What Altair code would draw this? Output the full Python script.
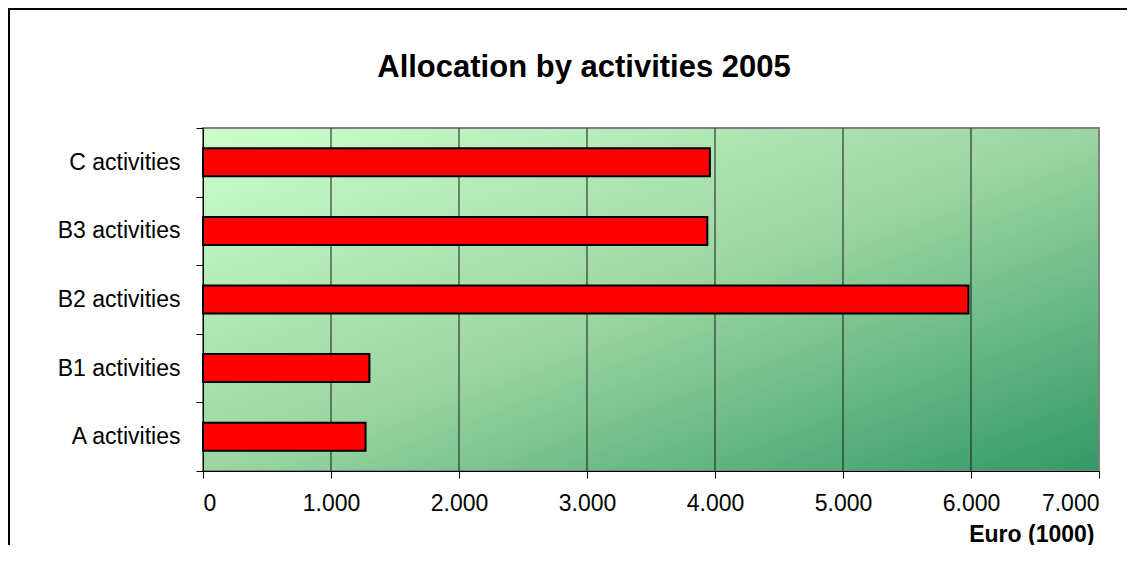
import altair as alt
import pandas as pd

# ---- data ----
categories = ["A activities", "B1 activities", "B2 activities", "B3 activities", "C activities"]
values = [1270, 1300, 5980, 3940, 3960]
x_ticks = [0, 1000, 2000, 3000, 4000, 5000, 6000, 7000]
grid_values = [1000, 2000, 3000, 4000, 5000, 6000]
title_text = "Allocation by activities 2005"
x_title = "Euro (1000)"

df = pd.DataFrame({"activity": categories, "euro": values})
grid_df = pd.DataFrame({"euro": grid_values})
order = categories[::-1]

W, H = 896, 343
FONT = "Liberation Sans"
one = alt.Data(values=[{"k": 1}])

x_scale = alt.Scale(domain=[0, 7000], nice=False, zero=True)

bg = alt.Chart(one).mark_rect(
    color=alt.Gradient(
        gradient="linear", x1=0, y1=0, x2=1, y2=1,
        stops=[
            alt.GradientStop(color="#CCFFCC", offset=0),
            alt.GradientStop(color="#9BD6A2", offset=0.5),
            alt.GradientStop(color="#339966", offset=1),
        ],
    )
).encode(x=alt.value(0), x2=alt.value(W), y=alt.value(0), y2=alt.value(H))

border = alt.Chart(one).mark_rect(
    fillOpacity=0, stroke="#808080", strokeWidth=2
).encode(x=alt.value(0), x2=alt.value(W), y=alt.value(0), y2=alt.value(H))

grid = alt.Chart(grid_df).mark_rule(color="#1a1a1a", strokeWidth=1).encode(
    x=alt.X("euro:Q", scale=x_scale)
)

bars = alt.Chart(df).mark_bar(
    color="#FF0000", stroke="black", strokeWidth=2, size=28
).encode(
    x=alt.X(
        "euro:Q",
        scale=x_scale,
        axis=alt.Axis(
            values=x_ticks,
            labelExpr="replace(format(datum.value, ','), ',', '.')",
            grid=False,
            tickSize=7,
            tickColor="black",
            domainColor="black",
            labelFont=FONT,
            labelFontSize=23,
            labelColor="black",
            labelBaseline="alphabetic",
            labelPadding=32,
            title=x_title,
            titleFont=FONT,
            titleFontSize=23,
            titleFontWeight="bold",
            titleColor="black",
            titleX=891,
            titleY=70,
            titleAlign="right",
            titleBaseline="alphabetic",
            zindex=1,
        ),
    ),
    y=alt.Y(
        "activity:N",
        sort=order,
        scale=alt.Scale(paddingInner=0, paddingOuter=0),
        axis=alt.Axis(
            title=None,
            tickBand="extent",
            tickSize=7,
            tickColor="black",
            domainColor="black",
            labelFont=FONT,
            labelFontSize=23,
            labelColor="black",
            labelPadding=16,
            grid=False,
            zindex=1,
        ),
    ),
)

title = alt.Chart(one).mark_text(
    text=title_text, font=FONT, fontSize=31, fontWeight="bold",
    color="black", align="center", baseline="alphabetic"
).encode(x=alt.value(381), y=alt.value(-51))

frame_left = alt.Chart(one).mark_rule(color="black", strokeWidth=2).encode(
    x=alt.value(-194), y=alt.value(-120), y2=alt.value(H + 300)
)
frame_top = alt.Chart(one).mark_rule(color="black", strokeWidth=2).encode(
    x=alt.value(-195), x2=alt.value(W + 300), y=alt.value(-119)
)

chart = alt.layer(bg, border, grid, bars, title, frame_left, frame_top).properties(
    width=W,
    height=H,
    autosize=alt.AutoSizeParams(type="none"),
    padding={"left": 195, "top": 120, "right": 28, "bottom": 74},
    background="white",
).configure_view(stroke=None)

chart.save("out.html", embed_options={"renderer": "svg", "actions": False})
